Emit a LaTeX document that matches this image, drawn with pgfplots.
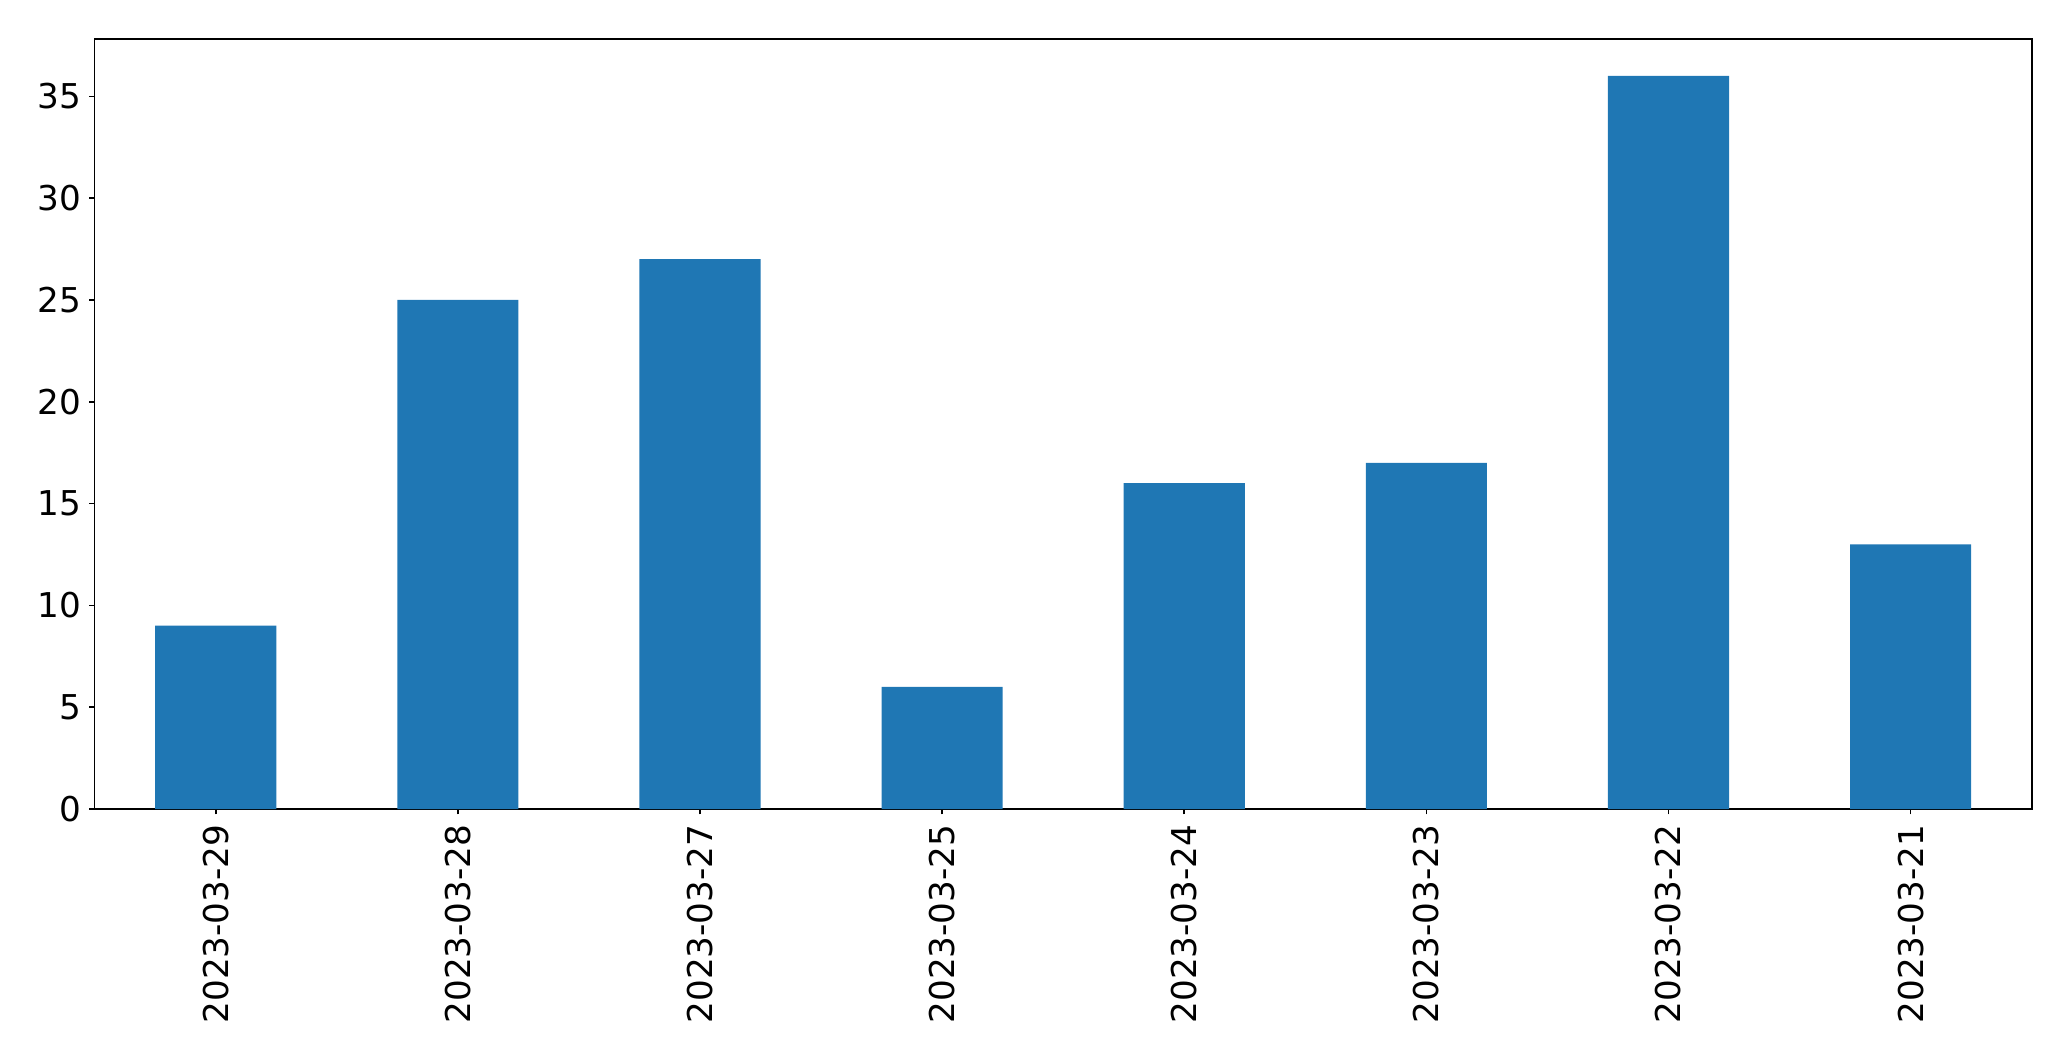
\documentclass[border=0pt]{standalone}
\usepackage{fontspec}
\setmainfont{DejaVu Sans}
\usepackage{pgfplots}
\pgfplotsset{compat=1.18}
\definecolor{mplblue}{HTML}{1F77B4}
\begin{document}
\begin{tikzpicture}
\useasboundingbox (-47.35pt,-126pt) rectangle (988.15pt,404.5pt);
\begin{axis}[
  at={(0,0)}, anchor=south west,
  scale only axis,
  width=968.5pt, height=384.85pt,
  xmin=-0.5, xmax=7.5,
  ymin=0, ymax=37.8,
  xtick=data,
  xticklabels={2023-03-29,2023-03-28,2023-03-27,2023-03-25,2023-03-24,2023-03-23,2023-03-22,2023-03-21},
  ytick={0,5,10,15,20,25,30,35},
  tick align=outside,
  tick pos=left,
  major tick length=2.7pt,
  axis line style={line width=0.8pt},
  every tick/.style={black, line width=0.8pt},
  /pgf/number format/assume math mode=true,
  tick label style={font=\fontsize{17.1}{19}\selectfont},
  xticklabel style={rotate=90, anchor=east, inner sep=0pt, yshift=0pt, xshift=-4.9pt},
  yticklabel style={inner sep=0pt, xshift=-3.9pt},
  ybar, bar width=0.5, bar shift=0pt,
]
\addplot[fill=mplblue, draw=none] coordinates {
(0,9) (1,25) (2,27) (3,6) (4,16) (5,17) (6,36) (7,13)
};
\end{axis}
\end{tikzpicture}
\end{document}
